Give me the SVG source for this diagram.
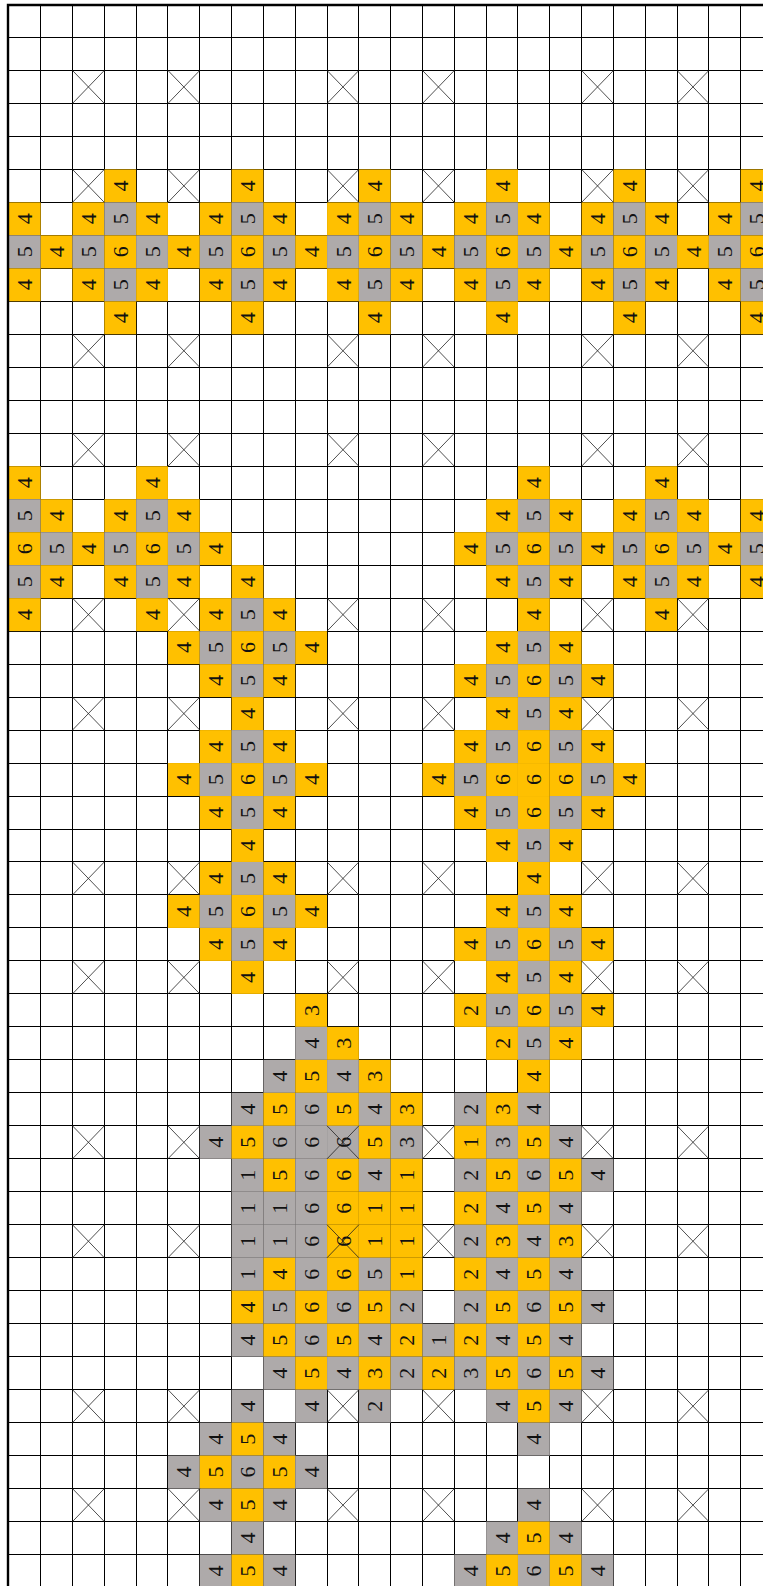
<svg xmlns="http://www.w3.org/2000/svg" xmlns:xlink="http://www.w3.org/1999/xlink" width="763" height="1586" viewBox="0 0 763 1586">
<style>
.grid{stroke:#000;stroke-width:1;fill:none;shape-rendering:crispEdges}
.frame{stroke:#000;stroke-width:2.4;fill:none}
.xs{stroke:#222;stroke-width:0.8;fill:none}
rect{width:31.82px;height:32.98px;stroke:none}
.Y rect{fill:#FFC000}
.G rect{fill:#AEAAAA}
text{font-family:"Liberation Serif","DejaVu Serif",serif;font-size:22px;text-anchor:middle;fill:#111;transform:translate(15.91px,16.49px) rotate(-90deg) translate(0px,7.6px)}
</style>
<defs>
<path id="x" d="M0 0l31.82 32.98M31.82 0L0 32.98"/>
</defs>
<rect x="0" y="0" width="763" height="1586" style="width:763px;height:1586px;fill:#fff"/>
<g id="grid">
<path class="grid" d="M40.67 4.5V1586M72.49 4.5V1586M104.31 4.5V1586M136.13 4.5V1586M167.95 4.5V1586M199.77 4.5V1586M231.59 4.5V1586M263.41 4.5V1586M295.23 4.5V1586M327.05 4.5V1586M358.87 4.5V1586M390.69 4.5V1586M422.51 4.5V1586M454.33 4.5V1586M486.15 4.5V1586M517.97 4.5V1586M549.79 4.5V1586M581.61 4.5V1586M613.43 4.5V1586M645.25 4.5V1586M677.07 4.5V1586M708.89 4.5V1586M740.71 4.5V1586"/>
<path class="grid" d="M8.85 37.48H763M8.85 70.46H763M8.85 103.44H763M8.85 136.42H763M8.85 169.4H763M8.85 202.38H763M8.85 235.36H763M8.85 268.34H763M8.85 301.32H763M8.85 334.3H763M8.85 367.28H763M8.85 400.26H763M8.85 433.24H763M8.85 466.22H763M8.85 499.2H763M8.85 532.18H763M8.85 565.16H763M8.85 598.14H763M8.85 631.12H763M8.85 664.1H763M8.85 697.08H763M8.85 730.06H763M8.85 763.04H763M8.85 796.02H763M8.85 829H763M8.85 861.98H763M8.85 894.96H763M8.85 927.94H763M8.85 960.92H763M8.85 993.9H763M8.85 1026.88H763M8.85 1059.86H763M8.85 1092.84H763M8.85 1125.82H763M8.85 1158.8H763M8.85 1191.78H763M8.85 1224.76H763M8.85 1257.74H763M8.85 1290.72H763M8.85 1323.7H763M8.85 1356.68H763M8.85 1389.66H763M8.85 1422.64H763M8.85 1455.62H763M8.85 1488.6H763M8.85 1521.58H763M8.85 1554.56H763"/>
</g>
<g id="cells">
<g id="r5c3" class="Y" transform="translate(104.31 169.4)"><rect/><text>4</text></g>
<g id="r5c7" class="Y" transform="translate(231.59 169.4)"><rect/><text>4</text></g>
<g id="r5c11" class="Y" transform="translate(358.87 169.4)"><rect/><text>4</text></g>
<g id="r5c15" class="Y" transform="translate(486.15 169.4)"><rect/><text>4</text></g>
<g id="r5c19" class="Y" transform="translate(613.43 169.4)"><rect/><text>4</text></g>
<g id="r5c23" class="Y" transform="translate(740.71 169.4)"><rect/><text>4</text></g>
<g id="r6c0" class="Y" transform="translate(8.85 202.38)"><rect/><text>4</text></g>
<g id="r6c2" class="Y" transform="translate(72.49 202.38)"><rect/><text>4</text></g>
<g id="r6c3" class="G" transform="translate(104.31 202.38)"><rect/><text>5</text></g>
<g id="r6c4" class="Y" transform="translate(136.13 202.38)"><rect/><text>4</text></g>
<g id="r6c6" class="Y" transform="translate(199.77 202.38)"><rect/><text>4</text></g>
<g id="r6c7" class="G" transform="translate(231.59 202.38)"><rect/><text>5</text></g>
<g id="r6c8" class="Y" transform="translate(263.41 202.38)"><rect/><text>4</text></g>
<g id="r6c10" class="Y" transform="translate(327.05 202.38)"><rect/><text>4</text></g>
<g id="r6c11" class="G" transform="translate(358.87 202.38)"><rect/><text>5</text></g>
<g id="r6c12" class="Y" transform="translate(390.69 202.38)"><rect/><text>4</text></g>
<g id="r6c14" class="Y" transform="translate(454.33 202.38)"><rect/><text>4</text></g>
<g id="r6c15" class="G" transform="translate(486.15 202.38)"><rect/><text>5</text></g>
<g id="r6c16" class="Y" transform="translate(517.97 202.38)"><rect/><text>4</text></g>
<g id="r6c18" class="Y" transform="translate(581.61 202.38)"><rect/><text>4</text></g>
<g id="r6c19" class="G" transform="translate(613.43 202.38)"><rect/><text>5</text></g>
<g id="r6c20" class="Y" transform="translate(645.25 202.38)"><rect/><text>4</text></g>
<g id="r6c22" class="Y" transform="translate(708.89 202.38)"><rect/><text>4</text></g>
<g id="r6c23" class="G" transform="translate(740.71 202.38)"><rect/><text>5</text></g>
<g id="r7c0" class="G" transform="translate(8.85 235.36)"><rect/><text>5</text></g>
<g id="r7c1" class="Y" transform="translate(40.67 235.36)"><rect/><text>4</text></g>
<g id="r7c2" class="G" transform="translate(72.49 235.36)"><rect/><text>5</text></g>
<g id="r7c3" class="Y" transform="translate(104.31 235.36)"><rect/><text>6</text></g>
<g id="r7c4" class="G" transform="translate(136.13 235.36)"><rect/><text>5</text></g>
<g id="r7c5" class="Y" transform="translate(167.95 235.36)"><rect/><text>4</text></g>
<g id="r7c6" class="G" transform="translate(199.77 235.36)"><rect/><text>5</text></g>
<g id="r7c7" class="Y" transform="translate(231.59 235.36)"><rect/><text>6</text></g>
<g id="r7c8" class="G" transform="translate(263.41 235.36)"><rect/><text>5</text></g>
<g id="r7c9" class="Y" transform="translate(295.23 235.36)"><rect/><text>4</text></g>
<g id="r7c10" class="G" transform="translate(327.05 235.36)"><rect/><text>5</text></g>
<g id="r7c11" class="Y" transform="translate(358.87 235.36)"><rect/><text>6</text></g>
<g id="r7c12" class="G" transform="translate(390.69 235.36)"><rect/><text>5</text></g>
<g id="r7c13" class="Y" transform="translate(422.51 235.36)"><rect/><text>4</text></g>
<g id="r7c14" class="G" transform="translate(454.33 235.36)"><rect/><text>5</text></g>
<g id="r7c15" class="Y" transform="translate(486.15 235.36)"><rect/><text>6</text></g>
<g id="r7c16" class="G" transform="translate(517.97 235.36)"><rect/><text>5</text></g>
<g id="r7c17" class="Y" transform="translate(549.79 235.36)"><rect/><text>4</text></g>
<g id="r7c18" class="G" transform="translate(581.61 235.36)"><rect/><text>5</text></g>
<g id="r7c19" class="Y" transform="translate(613.43 235.36)"><rect/><text>6</text></g>
<g id="r7c20" class="G" transform="translate(645.25 235.36)"><rect/><text>5</text></g>
<g id="r7c21" class="Y" transform="translate(677.07 235.36)"><rect/><text>4</text></g>
<g id="r7c22" class="G" transform="translate(708.89 235.36)"><rect/><text>5</text></g>
<g id="r7c23" class="Y" transform="translate(740.71 235.36)"><rect/><text>6</text></g>
<g id="r8c0" class="Y" transform="translate(8.85 268.34)"><rect/><text>4</text></g>
<g id="r8c2" class="Y" transform="translate(72.49 268.34)"><rect/><text>4</text></g>
<g id="r8c3" class="G" transform="translate(104.31 268.34)"><rect/><text>5</text></g>
<g id="r8c4" class="Y" transform="translate(136.13 268.34)"><rect/><text>4</text></g>
<g id="r8c6" class="Y" transform="translate(199.77 268.34)"><rect/><text>4</text></g>
<g id="r8c7" class="G" transform="translate(231.59 268.34)"><rect/><text>5</text></g>
<g id="r8c8" class="Y" transform="translate(263.41 268.34)"><rect/><text>4</text></g>
<g id="r8c10" class="Y" transform="translate(327.05 268.34)"><rect/><text>4</text></g>
<g id="r8c11" class="G" transform="translate(358.87 268.34)"><rect/><text>5</text></g>
<g id="r8c12" class="Y" transform="translate(390.69 268.34)"><rect/><text>4</text></g>
<g id="r8c14" class="Y" transform="translate(454.33 268.34)"><rect/><text>4</text></g>
<g id="r8c15" class="G" transform="translate(486.15 268.34)"><rect/><text>5</text></g>
<g id="r8c16" class="Y" transform="translate(517.97 268.34)"><rect/><text>4</text></g>
<g id="r8c18" class="Y" transform="translate(581.61 268.34)"><rect/><text>4</text></g>
<g id="r8c19" class="G" transform="translate(613.43 268.34)"><rect/><text>5</text></g>
<g id="r8c20" class="Y" transform="translate(645.25 268.34)"><rect/><text>4</text></g>
<g id="r8c22" class="Y" transform="translate(708.89 268.34)"><rect/><text>4</text></g>
<g id="r8c23" class="G" transform="translate(740.71 268.34)"><rect/><text>5</text></g>
<g id="r9c3" class="Y" transform="translate(104.31 301.32)"><rect/><text>4</text></g>
<g id="r9c7" class="Y" transform="translate(231.59 301.32)"><rect/><text>4</text></g>
<g id="r9c11" class="Y" transform="translate(358.87 301.32)"><rect/><text>4</text></g>
<g id="r9c15" class="Y" transform="translate(486.15 301.32)"><rect/><text>4</text></g>
<g id="r9c19" class="Y" transform="translate(613.43 301.32)"><rect/><text>4</text></g>
<g id="r9c23" class="Y" transform="translate(740.71 301.32)"><rect/><text>4</text></g>
<g id="r14c0" class="Y" transform="translate(8.85 466.22)"><rect/><text>4</text></g>
<g id="r14c4" class="Y" transform="translate(136.13 466.22)"><rect/><text>4</text></g>
<g id="r14c16" class="Y" transform="translate(517.97 466.22)"><rect/><text>4</text></g>
<g id="r14c20" class="Y" transform="translate(645.25 466.22)"><rect/><text>4</text></g>
<g id="r15c0" class="G" transform="translate(8.85 499.2)"><rect/><text>5</text></g>
<g id="r15c1" class="Y" transform="translate(40.67 499.2)"><rect/><text>4</text></g>
<g id="r15c3" class="Y" transform="translate(104.31 499.2)"><rect/><text>4</text></g>
<g id="r15c4" class="G" transform="translate(136.13 499.2)"><rect/><text>5</text></g>
<g id="r15c5" class="Y" transform="translate(167.95 499.2)"><rect/><text>4</text></g>
<g id="r15c15" class="Y" transform="translate(486.15 499.2)"><rect/><text>4</text></g>
<g id="r15c16" class="G" transform="translate(517.97 499.2)"><rect/><text>5</text></g>
<g id="r15c17" class="Y" transform="translate(549.79 499.2)"><rect/><text>4</text></g>
<g id="r15c19" class="Y" transform="translate(613.43 499.2)"><rect/><text>4</text></g>
<g id="r15c20" class="G" transform="translate(645.25 499.2)"><rect/><text>5</text></g>
<g id="r15c21" class="Y" transform="translate(677.07 499.2)"><rect/><text>4</text></g>
<g id="r15c23" class="Y" transform="translate(740.71 499.2)"><rect/><text>4</text></g>
<g id="r16c0" class="Y" transform="translate(8.85 532.18)"><rect/><text>6</text></g>
<g id="r16c1" class="G" transform="translate(40.67 532.18)"><rect/><text>5</text></g>
<g id="r16c2" class="Y" transform="translate(72.49 532.18)"><rect/><text>4</text></g>
<g id="r16c3" class="G" transform="translate(104.31 532.18)"><rect/><text>5</text></g>
<g id="r16c4" class="Y" transform="translate(136.13 532.18)"><rect/><text>6</text></g>
<g id="r16c5" class="G" transform="translate(167.95 532.18)"><rect/><text>5</text></g>
<g id="r16c6" class="Y" transform="translate(199.77 532.18)"><rect/><text>4</text></g>
<g id="r16c14" class="Y" transform="translate(454.33 532.18)"><rect/><text>4</text></g>
<g id="r16c15" class="G" transform="translate(486.15 532.18)"><rect/><text>5</text></g>
<g id="r16c16" class="Y" transform="translate(517.97 532.18)"><rect/><text>6</text></g>
<g id="r16c17" class="G" transform="translate(549.79 532.18)"><rect/><text>5</text></g>
<g id="r16c18" class="Y" transform="translate(581.61 532.18)"><rect/><text>4</text></g>
<g id="r16c19" class="G" transform="translate(613.43 532.18)"><rect/><text>5</text></g>
<g id="r16c20" class="Y" transform="translate(645.25 532.18)"><rect/><text>6</text></g>
<g id="r16c21" class="G" transform="translate(677.07 532.18)"><rect/><text>5</text></g>
<g id="r16c22" class="Y" transform="translate(708.89 532.18)"><rect/><text>4</text></g>
<g id="r16c23" class="G" transform="translate(740.71 532.18)"><rect/><text>5</text></g>
<g id="r17c0" class="G" transform="translate(8.85 565.16)"><rect/><text>5</text></g>
<g id="r17c1" class="Y" transform="translate(40.67 565.16)"><rect/><text>4</text></g>
<g id="r17c3" class="Y" transform="translate(104.31 565.16)"><rect/><text>4</text></g>
<g id="r17c4" class="G" transform="translate(136.13 565.16)"><rect/><text>5</text></g>
<g id="r17c5" class="Y" transform="translate(167.95 565.16)"><rect/><text>4</text></g>
<g id="r17c7" class="Y" transform="translate(231.59 565.16)"><rect/><text>4</text></g>
<g id="r17c15" class="Y" transform="translate(486.15 565.16)"><rect/><text>4</text></g>
<g id="r17c16" class="G" transform="translate(517.97 565.16)"><rect/><text>5</text></g>
<g id="r17c17" class="Y" transform="translate(549.79 565.16)"><rect/><text>4</text></g>
<g id="r17c19" class="Y" transform="translate(613.43 565.16)"><rect/><text>4</text></g>
<g id="r17c20" class="G" transform="translate(645.25 565.16)"><rect/><text>5</text></g>
<g id="r17c21" class="Y" transform="translate(677.07 565.16)"><rect/><text>4</text></g>
<g id="r17c23" class="Y" transform="translate(740.71 565.16)"><rect/><text>4</text></g>
<g id="r18c0" class="Y" transform="translate(8.85 598.14)"><rect/><text>4</text></g>
<g id="r18c4" class="Y" transform="translate(136.13 598.14)"><rect/><text>4</text></g>
<g id="r18c6" class="Y" transform="translate(199.77 598.14)"><rect/><text>4</text></g>
<g id="r18c7" class="G" transform="translate(231.59 598.14)"><rect/><text>5</text></g>
<g id="r18c8" class="Y" transform="translate(263.41 598.14)"><rect/><text>4</text></g>
<g id="r18c16" class="Y" transform="translate(517.97 598.14)"><rect/><text>4</text></g>
<g id="r18c20" class="Y" transform="translate(645.25 598.14)"><rect/><text>4</text></g>
<g id="r19c5" class="Y" transform="translate(167.95 631.12)"><rect/><text>4</text></g>
<g id="r19c6" class="G" transform="translate(199.77 631.12)"><rect/><text>5</text></g>
<g id="r19c7" class="Y" transform="translate(231.59 631.12)"><rect/><text>6</text></g>
<g id="r19c8" class="G" transform="translate(263.41 631.12)"><rect/><text>5</text></g>
<g id="r19c9" class="Y" transform="translate(295.23 631.12)"><rect/><text>4</text></g>
<g id="r19c15" class="Y" transform="translate(486.15 631.12)"><rect/><text>4</text></g>
<g id="r19c16" class="G" transform="translate(517.97 631.12)"><rect/><text>5</text></g>
<g id="r19c17" class="Y" transform="translate(549.79 631.12)"><rect/><text>4</text></g>
<g id="r20c6" class="Y" transform="translate(199.77 664.1)"><rect/><text>4</text></g>
<g id="r20c7" class="G" transform="translate(231.59 664.1)"><rect/><text>5</text></g>
<g id="r20c8" class="Y" transform="translate(263.41 664.1)"><rect/><text>4</text></g>
<g id="r20c14" class="Y" transform="translate(454.33 664.1)"><rect/><text>4</text></g>
<g id="r20c15" class="G" transform="translate(486.15 664.1)"><rect/><text>5</text></g>
<g id="r20c16" class="Y" transform="translate(517.97 664.1)"><rect/><text>6</text></g>
<g id="r20c17" class="G" transform="translate(549.79 664.1)"><rect/><text>5</text></g>
<g id="r20c18" class="Y" transform="translate(581.61 664.1)"><rect/><text>4</text></g>
<g id="r21c7" class="Y" transform="translate(231.59 697.08)"><rect/><text>4</text></g>
<g id="r21c15" class="Y" transform="translate(486.15 697.08)"><rect/><text>4</text></g>
<g id="r21c16" class="G" transform="translate(517.97 697.08)"><rect/><text>5</text></g>
<g id="r21c17" class="Y" transform="translate(549.79 697.08)"><rect/><text>4</text></g>
<g id="r22c6" class="Y" transform="translate(199.77 730.06)"><rect/><text>4</text></g>
<g id="r22c7" class="G" transform="translate(231.59 730.06)"><rect/><text>5</text></g>
<g id="r22c8" class="Y" transform="translate(263.41 730.06)"><rect/><text>4</text></g>
<g id="r22c14" class="Y" transform="translate(454.33 730.06)"><rect/><text>4</text></g>
<g id="r22c15" class="G" transform="translate(486.15 730.06)"><rect/><text>5</text></g>
<g id="r22c16" class="Y" transform="translate(517.97 730.06)"><rect/><text>6</text></g>
<g id="r22c17" class="G" transform="translate(549.79 730.06)"><rect/><text>5</text></g>
<g id="r22c18" class="Y" transform="translate(581.61 730.06)"><rect/><text>4</text></g>
<g id="r23c5" class="Y" transform="translate(167.95 763.04)"><rect/><text>4</text></g>
<g id="r23c6" class="G" transform="translate(199.77 763.04)"><rect/><text>5</text></g>
<g id="r23c7" class="Y" transform="translate(231.59 763.04)"><rect/><text>6</text></g>
<g id="r23c8" class="G" transform="translate(263.41 763.04)"><rect/><text>5</text></g>
<g id="r23c9" class="Y" transform="translate(295.23 763.04)"><rect/><text>4</text></g>
<g id="r23c13" class="Y" transform="translate(422.51 763.04)"><rect/><text>4</text></g>
<g id="r23c14" class="G" transform="translate(454.33 763.04)"><rect/><text>5</text></g>
<g id="r23c15" class="Y" transform="translate(486.15 763.04)"><rect/><text>6</text></g>
<g id="r23c16" class="Y" transform="translate(517.97 763.04)"><rect/><text>6</text></g>
<g id="r23c17" class="Y" transform="translate(549.79 763.04)"><rect/><text>6</text></g>
<g id="r23c18" class="G" transform="translate(581.61 763.04)"><rect/><text>5</text></g>
<g id="r23c19" class="Y" transform="translate(613.43 763.04)"><rect/><text>4</text></g>
<g id="r24c6" class="Y" transform="translate(199.77 796.02)"><rect/><text>4</text></g>
<g id="r24c7" class="G" transform="translate(231.59 796.02)"><rect/><text>5</text></g>
<g id="r24c8" class="Y" transform="translate(263.41 796.02)"><rect/><text>4</text></g>
<g id="r24c14" class="Y" transform="translate(454.33 796.02)"><rect/><text>4</text></g>
<g id="r24c15" class="G" transform="translate(486.15 796.02)"><rect/><text>5</text></g>
<g id="r24c16" class="Y" transform="translate(517.97 796.02)"><rect/><text>6</text></g>
<g id="r24c17" class="G" transform="translate(549.79 796.02)"><rect/><text>5</text></g>
<g id="r24c18" class="Y" transform="translate(581.61 796.02)"><rect/><text>4</text></g>
<g id="r25c7" class="Y" transform="translate(231.59 829)"><rect/><text>4</text></g>
<g id="r25c15" class="Y" transform="translate(486.15 829)"><rect/><text>4</text></g>
<g id="r25c16" class="G" transform="translate(517.97 829)"><rect/><text>5</text></g>
<g id="r25c17" class="Y" transform="translate(549.79 829)"><rect/><text>4</text></g>
<g id="r26c6" class="Y" transform="translate(199.77 861.98)"><rect/><text>4</text></g>
<g id="r26c7" class="G" transform="translate(231.59 861.98)"><rect/><text>5</text></g>
<g id="r26c8" class="Y" transform="translate(263.41 861.98)"><rect/><text>4</text></g>
<g id="r26c16" class="Y" transform="translate(517.97 861.98)"><rect/><text>4</text></g>
<g id="r27c5" class="Y" transform="translate(167.95 894.96)"><rect/><text>4</text></g>
<g id="r27c6" class="G" transform="translate(199.77 894.96)"><rect/><text>5</text></g>
<g id="r27c7" class="Y" transform="translate(231.59 894.96)"><rect/><text>6</text></g>
<g id="r27c8" class="G" transform="translate(263.41 894.96)"><rect/><text>5</text></g>
<g id="r27c9" class="Y" transform="translate(295.23 894.96)"><rect/><text>4</text></g>
<g id="r27c15" class="Y" transform="translate(486.15 894.96)"><rect/><text>4</text></g>
<g id="r27c16" class="G" transform="translate(517.97 894.96)"><rect/><text>5</text></g>
<g id="r27c17" class="Y" transform="translate(549.79 894.96)"><rect/><text>4</text></g>
<g id="r28c6" class="Y" transform="translate(199.77 927.94)"><rect/><text>4</text></g>
<g id="r28c7" class="G" transform="translate(231.59 927.94)"><rect/><text>5</text></g>
<g id="r28c8" class="Y" transform="translate(263.41 927.94)"><rect/><text>4</text></g>
<g id="r28c14" class="Y" transform="translate(454.33 927.94)"><rect/><text>4</text></g>
<g id="r28c15" class="G" transform="translate(486.15 927.94)"><rect/><text>5</text></g>
<g id="r28c16" class="Y" transform="translate(517.97 927.94)"><rect/><text>6</text></g>
<g id="r28c17" class="G" transform="translate(549.79 927.94)"><rect/><text>5</text></g>
<g id="r28c18" class="Y" transform="translate(581.61 927.94)"><rect/><text>4</text></g>
<g id="r29c7" class="Y" transform="translate(231.59 960.92)"><rect/><text>4</text></g>
<g id="r29c15" class="Y" transform="translate(486.15 960.92)"><rect/><text>4</text></g>
<g id="r29c16" class="G" transform="translate(517.97 960.92)"><rect/><text>5</text></g>
<g id="r29c17" class="Y" transform="translate(549.79 960.92)"><rect/><text>4</text></g>
<g id="r30c9" class="Y" transform="translate(295.23 993.9)"><rect/><text>3</text></g>
<g id="r30c14" class="Y" transform="translate(454.33 993.9)"><rect/><text>2</text></g>
<g id="r30c15" class="G" transform="translate(486.15 993.9)"><rect/><text>5</text></g>
<g id="r30c16" class="Y" transform="translate(517.97 993.9)"><rect/><text>6</text></g>
<g id="r30c17" class="G" transform="translate(549.79 993.9)"><rect/><text>5</text></g>
<g id="r30c18" class="Y" transform="translate(581.61 993.9)"><rect/><text>4</text></g>
<g id="r31c9" class="G" transform="translate(295.23 1026.88)"><rect/><text>4</text></g>
<g id="r31c10" class="Y" transform="translate(327.05 1026.88)"><rect/><text>3</text></g>
<g id="r31c15" class="Y" transform="translate(486.15 1026.88)"><rect/><text>2</text></g>
<g id="r31c16" class="G" transform="translate(517.97 1026.88)"><rect/><text>5</text></g>
<g id="r31c17" class="Y" transform="translate(549.79 1026.88)"><rect/><text>4</text></g>
<g id="r32c8" class="G" transform="translate(263.41 1059.86)"><rect/><text>4</text></g>
<g id="r32c9" class="Y" transform="translate(295.23 1059.86)"><rect/><text>5</text></g>
<g id="r32c10" class="G" transform="translate(327.05 1059.86)"><rect/><text>4</text></g>
<g id="r32c11" class="Y" transform="translate(358.87 1059.86)"><rect/><text>3</text></g>
<g id="r32c16" class="Y" transform="translate(517.97 1059.86)"><rect/><text>4</text></g>
<g id="r33c7" class="G" transform="translate(231.59 1092.84)"><rect/><text>4</text></g>
<g id="r33c8" class="Y" transform="translate(263.41 1092.84)"><rect/><text>5</text></g>
<g id="r33c9" class="G" transform="translate(295.23 1092.84)"><rect/><text>6</text></g>
<g id="r33c10" class="Y" transform="translate(327.05 1092.84)"><rect/><text>5</text></g>
<g id="r33c11" class="G" transform="translate(358.87 1092.84)"><rect/><text>4</text></g>
<g id="r33c12" class="Y" transform="translate(390.69 1092.84)"><rect/><text>3</text></g>
<g id="r33c14" class="G" transform="translate(454.33 1092.84)"><rect/><text>2</text></g>
<g id="r33c15" class="Y" transform="translate(486.15 1092.84)"><rect/><text>3</text></g>
<g id="r33c16" class="G" transform="translate(517.97 1092.84)"><rect/><text>4</text></g>
<g id="r34c6" class="G" transform="translate(199.77 1125.82)"><rect/><text>4</text></g>
<g id="r34c7" class="Y" transform="translate(231.59 1125.82)"><rect/><text>5</text></g>
<g id="r34c8" class="G" transform="translate(263.41 1125.82)"><rect/><text>6</text></g>
<g id="r34c9" class="G" transform="translate(295.23 1125.82)"><rect/><text>6</text></g>
<g id="r34c10" class="G" transform="translate(327.05 1125.82)"><rect/><text>6</text></g>
<g id="r34c11" class="Y" transform="translate(358.87 1125.82)"><rect/><text>5</text></g>
<g id="r34c12" class="G" transform="translate(390.69 1125.82)"><rect/><text>3</text></g>
<g id="r34c14" class="Y" transform="translate(454.33 1125.82)"><rect/><text>1</text></g>
<g id="r34c15" class="G" transform="translate(486.15 1125.82)"><rect/><text>3</text></g>
<g id="r34c16" class="Y" transform="translate(517.97 1125.82)"><rect/><text>5</text></g>
<g id="r34c17" class="G" transform="translate(549.79 1125.82)"><rect/><text>4</text></g>
<g id="r35c7" class="G" transform="translate(231.59 1158.8)"><rect/><text>1</text></g>
<g id="r35c8" class="Y" transform="translate(263.41 1158.8)"><rect/><text>5</text></g>
<g id="r35c9" class="G" transform="translate(295.23 1158.8)"><rect/><text>6</text></g>
<g id="r35c10" class="Y" transform="translate(327.05 1158.8)"><rect/><text>6</text></g>
<g id="r35c11" class="G" transform="translate(358.87 1158.8)"><rect/><text>4</text></g>
<g id="r35c12" class="Y" transform="translate(390.69 1158.8)"><rect/><text>1</text></g>
<g id="r35c14" class="G" transform="translate(454.33 1158.8)"><rect/><text>2</text></g>
<g id="r35c15" class="Y" transform="translate(486.15 1158.8)"><rect/><text>5</text></g>
<g id="r35c16" class="G" transform="translate(517.97 1158.8)"><rect/><text>6</text></g>
<g id="r35c17" class="Y" transform="translate(549.79 1158.8)"><rect/><text>5</text></g>
<g id="r35c18" class="G" transform="translate(581.61 1158.8)"><rect/><text>4</text></g>
<g id="r36c7" class="G" transform="translate(231.59 1191.78)"><rect/><text>1</text></g>
<g id="r36c8" class="G" transform="translate(263.41 1191.78)"><rect/><text>1</text></g>
<g id="r36c9" class="G" transform="translate(295.23 1191.78)"><rect/><text>6</text></g>
<g id="r36c10" class="Y" transform="translate(327.05 1191.78)"><rect/><text>6</text></g>
<g id="r36c11" class="Y" transform="translate(358.87 1191.78)"><rect/><text>1</text></g>
<g id="r36c12" class="Y" transform="translate(390.69 1191.78)"><rect/><text>1</text></g>
<g id="r36c14" class="Y" transform="translate(454.33 1191.78)"><rect/><text>2</text></g>
<g id="r36c15" class="G" transform="translate(486.15 1191.78)"><rect/><text>4</text></g>
<g id="r36c16" class="Y" transform="translate(517.97 1191.78)"><rect/><text>5</text></g>
<g id="r36c17" class="G" transform="translate(549.79 1191.78)"><rect/><text>4</text></g>
<g id="r37c7" class="G" transform="translate(231.59 1224.76)"><rect/><text>1</text></g>
<g id="r37c8" class="G" transform="translate(263.41 1224.76)"><rect/><text>1</text></g>
<g id="r37c9" class="G" transform="translate(295.23 1224.76)"><rect/><text>6</text></g>
<g id="r37c10" class="Y" transform="translate(327.05 1224.76)"><rect/><text>6</text></g>
<g id="r37c11" class="Y" transform="translate(358.87 1224.76)"><rect/><text>1</text></g>
<g id="r37c12" class="Y" transform="translate(390.69 1224.76)"><rect/><text>1</text></g>
<g id="r37c14" class="G" transform="translate(454.33 1224.76)"><rect/><text>2</text></g>
<g id="r37c15" class="Y" transform="translate(486.15 1224.76)"><rect/><text>3</text></g>
<g id="r37c16" class="G" transform="translate(517.97 1224.76)"><rect/><text>4</text></g>
<g id="r37c17" class="Y" transform="translate(549.79 1224.76)"><rect/><text>3</text></g>
<g id="r38c7" class="G" transform="translate(231.59 1257.74)"><rect/><text>1</text></g>
<g id="r38c8" class="Y" transform="translate(263.41 1257.74)"><rect/><text>4</text></g>
<g id="r38c9" class="G" transform="translate(295.23 1257.74)"><rect/><text>6</text></g>
<g id="r38c10" class="Y" transform="translate(327.05 1257.74)"><rect/><text>6</text></g>
<g id="r38c11" class="G" transform="translate(358.87 1257.74)"><rect/><text>5</text></g>
<g id="r38c12" class="Y" transform="translate(390.69 1257.74)"><rect/><text>1</text></g>
<g id="r38c14" class="Y" transform="translate(454.33 1257.74)"><rect/><text>2</text></g>
<g id="r38c15" class="G" transform="translate(486.15 1257.74)"><rect/><text>4</text></g>
<g id="r38c16" class="Y" transform="translate(517.97 1257.74)"><rect/><text>5</text></g>
<g id="r38c17" class="G" transform="translate(549.79 1257.74)"><rect/><text>4</text></g>
<g id="r39c7" class="Y" transform="translate(231.59 1290.72)"><rect/><text>4</text></g>
<g id="r39c8" class="G" transform="translate(263.41 1290.72)"><rect/><text>5</text></g>
<g id="r39c9" class="Y" transform="translate(295.23 1290.72)"><rect/><text>6</text></g>
<g id="r39c10" class="G" transform="translate(327.05 1290.72)"><rect/><text>6</text></g>
<g id="r39c11" class="Y" transform="translate(358.87 1290.72)"><rect/><text>5</text></g>
<g id="r39c12" class="G" transform="translate(390.69 1290.72)"><rect/><text>2</text></g>
<g id="r39c14" class="G" transform="translate(454.33 1290.72)"><rect/><text>2</text></g>
<g id="r39c15" class="Y" transform="translate(486.15 1290.72)"><rect/><text>5</text></g>
<g id="r39c16" class="G" transform="translate(517.97 1290.72)"><rect/><text>6</text></g>
<g id="r39c17" class="Y" transform="translate(549.79 1290.72)"><rect/><text>5</text></g>
<g id="r39c18" class="G" transform="translate(581.61 1290.72)"><rect/><text>4</text></g>
<g id="r40c7" class="G" transform="translate(231.59 1323.7)"><rect/><text>4</text></g>
<g id="r40c8" class="Y" transform="translate(263.41 1323.7)"><rect/><text>5</text></g>
<g id="r40c9" class="G" transform="translate(295.23 1323.7)"><rect/><text>6</text></g>
<g id="r40c10" class="Y" transform="translate(327.05 1323.7)"><rect/><text>5</text></g>
<g id="r40c11" class="G" transform="translate(358.87 1323.7)"><rect/><text>4</text></g>
<g id="r40c12" class="Y" transform="translate(390.69 1323.7)"><rect/><text>2</text></g>
<g id="r40c13" class="G" transform="translate(422.51 1323.7)"><rect/><text>1</text></g>
<g id="r40c14" class="Y" transform="translate(454.33 1323.7)"><rect/><text>2</text></g>
<g id="r40c15" class="G" transform="translate(486.15 1323.7)"><rect/><text>4</text></g>
<g id="r40c16" class="Y" transform="translate(517.97 1323.7)"><rect/><text>5</text></g>
<g id="r40c17" class="G" transform="translate(549.79 1323.7)"><rect/><text>4</text></g>
<g id="r41c8" class="G" transform="translate(263.41 1356.68)"><rect/><text>4</text></g>
<g id="r41c9" class="Y" transform="translate(295.23 1356.68)"><rect/><text>5</text></g>
<g id="r41c10" class="G" transform="translate(327.05 1356.68)"><rect/><text>4</text></g>
<g id="r41c11" class="Y" transform="translate(358.87 1356.68)"><rect/><text>3</text></g>
<g id="r41c12" class="G" transform="translate(390.69 1356.68)"><rect/><text>2</text></g>
<g id="r41c13" class="Y" transform="translate(422.51 1356.68)"><rect/><text>2</text></g>
<g id="r41c14" class="G" transform="translate(454.33 1356.68)"><rect/><text>3</text></g>
<g id="r41c15" class="Y" transform="translate(486.15 1356.68)"><rect/><text>5</text></g>
<g id="r41c16" class="G" transform="translate(517.97 1356.68)"><rect/><text>6</text></g>
<g id="r41c17" class="Y" transform="translate(549.79 1356.68)"><rect/><text>5</text></g>
<g id="r41c18" class="G" transform="translate(581.61 1356.68)"><rect/><text>4</text></g>
<g id="r42c7" class="G" transform="translate(231.59 1389.66)"><rect/><text>4</text></g>
<g id="r42c9" class="G" transform="translate(295.23 1389.66)"><rect/><text>4</text></g>
<g id="r42c11" class="G" transform="translate(358.87 1389.66)"><rect/><text>2</text></g>
<g id="r42c15" class="G" transform="translate(486.15 1389.66)"><rect/><text>4</text></g>
<g id="r42c16" class="Y" transform="translate(517.97 1389.66)"><rect/><text>5</text></g>
<g id="r42c17" class="G" transform="translate(549.79 1389.66)"><rect/><text>4</text></g>
<g id="r43c6" class="G" transform="translate(199.77 1422.64)"><rect/><text>4</text></g>
<g id="r43c7" class="Y" transform="translate(231.59 1422.64)"><rect/><text>5</text></g>
<g id="r43c8" class="G" transform="translate(263.41 1422.64)"><rect/><text>4</text></g>
<g id="r43c16" class="G" transform="translate(517.97 1422.64)"><rect/><text>4</text></g>
<g id="r44c5" class="G" transform="translate(167.95 1455.62)"><rect/><text>4</text></g>
<g id="r44c6" class="Y" transform="translate(199.77 1455.62)"><rect/><text>5</text></g>
<g id="r44c7" class="G" transform="translate(231.59 1455.62)"><rect/><text>6</text></g>
<g id="r44c8" class="Y" transform="translate(263.41 1455.62)"><rect/><text>5</text></g>
<g id="r44c9" class="G" transform="translate(295.23 1455.62)"><rect/><text>4</text></g>
<g id="r45c6" class="G" transform="translate(199.77 1488.6)"><rect/><text>4</text></g>
<g id="r45c7" class="Y" transform="translate(231.59 1488.6)"><rect/><text>5</text></g>
<g id="r45c8" class="G" transform="translate(263.41 1488.6)"><rect/><text>4</text></g>
<g id="r45c16" class="G" transform="translate(517.97 1488.6)"><rect/><text>4</text></g>
<g id="r46c7" class="G" transform="translate(231.59 1521.58)"><rect/><text>4</text></g>
<g id="r46c15" class="G" transform="translate(486.15 1521.58)"><rect/><text>4</text></g>
<g id="r46c16" class="Y" transform="translate(517.97 1521.58)"><rect/><text>5</text></g>
<g id="r46c17" class="G" transform="translate(549.79 1521.58)"><rect/><text>4</text></g>
<g id="r47c6" class="G" transform="translate(199.77 1554.56)"><rect/><text>4</text></g>
<g id="r47c7" class="Y" transform="translate(231.59 1554.56)"><rect/><text>5</text></g>
<g id="r47c8" class="G" transform="translate(263.41 1554.56)"><rect/><text>4</text></g>
<g id="r47c14" class="G" transform="translate(454.33 1554.56)"><rect/><text>4</text></g>
<g id="r47c15" class="Y" transform="translate(486.15 1554.56)"><rect/><text>5</text></g>
<g id="r47c16" class="G" transform="translate(517.97 1554.56)"><rect/><text>6</text></g>
<g id="r47c17" class="Y" transform="translate(549.79 1554.56)"><rect/><text>5</text></g>
<g id="r47c18" class="G" transform="translate(581.61 1554.56)"><rect/><text>4</text></g>
</g>
<g id="crosses" class="xs">
<use href="#x" x="72.49" y="70.46"/><use href="#x" x="167.95" y="70.46"/><use href="#x" x="327.05" y="70.46"/><use href="#x" x="422.51" y="70.46"/><use href="#x" x="581.61" y="70.46"/><use href="#x" x="677.07" y="70.46"/>
<use href="#x" x="72.49" y="169.4"/><use href="#x" x="167.95" y="169.4"/><use href="#x" x="327.05" y="169.4"/><use href="#x" x="422.51" y="169.4"/><use href="#x" x="581.61" y="169.4"/><use href="#x" x="677.07" y="169.4"/>
<use href="#x" x="72.49" y="334.3"/><use href="#x" x="167.95" y="334.3"/><use href="#x" x="327.05" y="334.3"/><use href="#x" x="422.51" y="334.3"/><use href="#x" x="581.61" y="334.3"/><use href="#x" x="677.07" y="334.3"/>
<use href="#x" x="72.49" y="433.24"/><use href="#x" x="167.95" y="433.24"/><use href="#x" x="327.05" y="433.24"/><use href="#x" x="422.51" y="433.24"/><use href="#x" x="581.61" y="433.24"/><use href="#x" x="677.07" y="433.24"/>
<use href="#x" x="72.49" y="598.14"/><use href="#x" x="167.95" y="598.14"/><use href="#x" x="327.05" y="598.14"/><use href="#x" x="422.51" y="598.14"/><use href="#x" x="581.61" y="598.14"/><use href="#x" x="677.07" y="598.14"/>
<use href="#x" x="72.49" y="697.08"/><use href="#x" x="167.95" y="697.08"/><use href="#x" x="327.05" y="697.08"/><use href="#x" x="422.51" y="697.08"/><use href="#x" x="581.61" y="697.08"/><use href="#x" x="677.07" y="697.08"/>
<use href="#x" x="72.49" y="861.98"/><use href="#x" x="167.95" y="861.98"/><use href="#x" x="327.05" y="861.98"/><use href="#x" x="422.51" y="861.98"/><use href="#x" x="581.61" y="861.98"/><use href="#x" x="677.07" y="861.98"/>
<use href="#x" x="72.49" y="960.92"/><use href="#x" x="167.95" y="960.92"/><use href="#x" x="327.05" y="960.92"/><use href="#x" x="422.51" y="960.92"/><use href="#x" x="581.61" y="960.92"/><use href="#x" x="677.07" y="960.92"/>
<use href="#x" x="72.49" y="1125.82"/><use href="#x" x="167.95" y="1125.82"/><use href="#x" x="327.05" y="1125.82"/><use href="#x" x="422.51" y="1125.82"/><use href="#x" x="581.61" y="1125.82"/><use href="#x" x="677.07" y="1125.82"/>
<use href="#x" x="72.49" y="1224.76"/><use href="#x" x="167.95" y="1224.76"/><use href="#x" x="327.05" y="1224.76"/><use href="#x" x="422.51" y="1224.76"/><use href="#x" x="581.61" y="1224.76"/><use href="#x" x="677.07" y="1224.76"/>
<use href="#x" x="72.49" y="1389.66"/><use href="#x" x="167.95" y="1389.66"/><use href="#x" x="327.05" y="1389.66"/><use href="#x" x="422.51" y="1389.66"/><use href="#x" x="581.61" y="1389.66"/><use href="#x" x="677.07" y="1389.66"/>
<use href="#x" x="72.49" y="1488.6"/><use href="#x" x="167.95" y="1488.6"/><use href="#x" x="327.05" y="1488.6"/><use href="#x" x="422.51" y="1488.6"/><use href="#x" x="581.61" y="1488.6"/><use href="#x" x="677.07" y="1488.6"/>
</g>
<path class="frame" d="M8 1586V5H763"/>
</svg>
